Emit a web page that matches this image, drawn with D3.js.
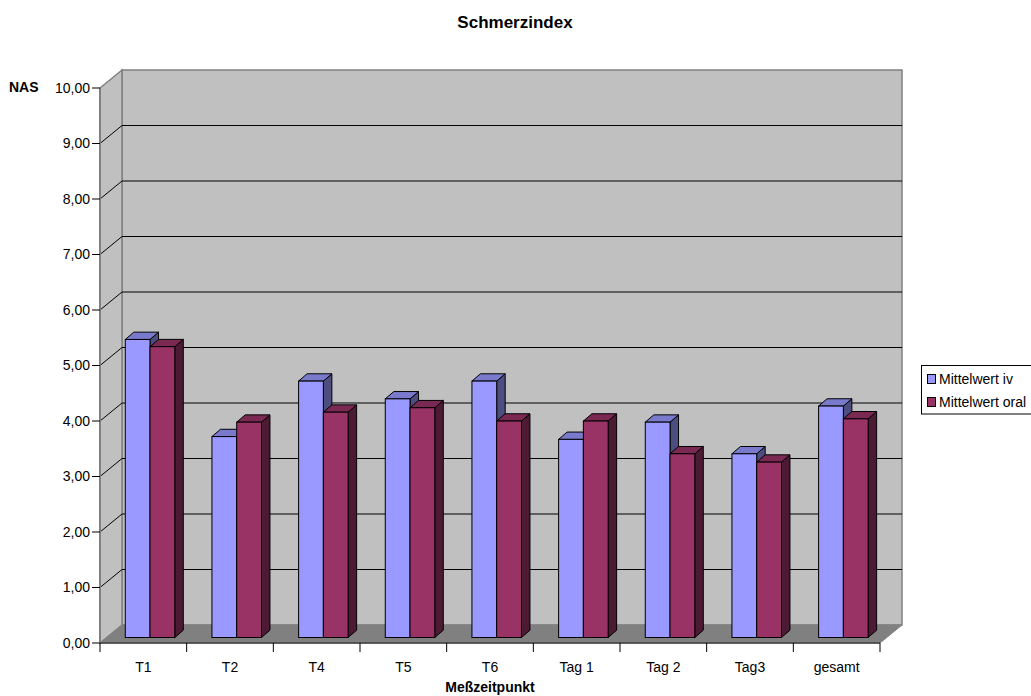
<!DOCTYPE html>
<html><head><meta charset="utf-8">
<script src="https://cdn.jsdelivr.net/npm/d3@7"></script>
<style>body{margin:0;background:#fff} svg text{font-family:"Liberation Sans",Arial,sans-serif}</style>
</head><body><svg id="c" width="1031" height="696"></svg>
<script>
const categories = ["T1","T2","T4","T5","T6","Tag 1","Tag 2","Tag3","gesamt"];
const seriesNames = ["Mittelwert iv","Mittelwert oral"];
const ivValues = [5.37, 3.62, 4.62, 4.30, 4.62, 3.57, 3.88, 3.31, 4.17];
const oralValues = [5.24, 3.88, 4.06, 4.14, 3.90, 3.90, 3.31, 3.16, 3.94];
const yTickValues = [0,1,2,3,4,5,6,7,8,9,10];
const chartTitle = "Schmerzindex";
const yAxisTitle = "NAS";
const xAxisTitle = "Meßzeitpunkt";

const seriesColors = {
  "Mittelwert iv": {front:"#9999ff", top:"#7a7acc", side:"#4d4d80"},
  "Mittelwert oral": {front:"#993366", top:"#7a2952", side:"#4d1a33"}
};

const svg = d3.select("#c");
const x0 = 100, x1 = 880, yBottom = 643, yTop = 88;
const DX = 22, DY = -18;           // depth of the 3D box
const FDX = 6.7, FDY = -5.5;       // front shift of bars
const BDX = 8.5, BDY = -7.3;       // bar depth

const x = d3.scaleBand().domain(categories).range([x0, x1]).paddingInner(0).paddingOuter(0);
const y = d3.scaleLinear().domain([0, 10]).range([yBottom, yTop]);
const inner = d3.scaleBand().domain(seriesNames).range([0, x.bandwidth()]).paddingInner(0).paddingOuter(0.75);
const fmt = d3.formatLocale({decimal: ",", thousands: ".", grouping: [3], currency: ["", "€"]}).format(".2f");

const line = d3.line();

// back wall
svg.append("rect")
  .attr("x", x0 + DX).attr("y", y(10) + DY)
  .attr("width", x1 - x0).attr("height", y(0) - y(10))
  .attr("fill", "#c0c0c0").attr("stroke", "#808080").attr("stroke-width", 1.5);
// left wall
svg.append("path")
  .attr("d", line([[x0, y(0)], [x0, y(10)], [x0 + DX, y(10) + DY], [x0 + DX, y(0) + DY]]) + "Z")
  .attr("fill", "#c0c0c0").attr("stroke", "#808080").attr("stroke-width", 1.5);

// gridlines
const grid = yTickValues.filter(v => v > 0 && v < 10);
svg.append("g").selectAll("line.gb").data(grid).join("line")
  .attr("x1", x0 + DX).attr("x2", x1 + DX)
  .attr("y1", d => y(d) + DY).attr("y2", d => y(d) + DY)
  .attr("stroke", "#000").attr("stroke-width", 1);
svg.append("g").selectAll("line.gl").data(grid).join("line")
  .attr("x1", x0).attr("x2", x0 + DX)
  .attr("y1", d => y(d)).attr("y2", d => y(d) + DY)
  .attr("stroke", "#000").attr("stroke-width", 1);

// floor
svg.append("path")
  .attr("d", line([[x0, y(0)], [x1, y(0)], [x1 + DX, y(0) + DY], [x0 + DX, y(0) + DY]]) + "Z")
  .attr("fill", "#808080").attr("stroke", "#808080").attr("stroke-width", 1);

// axes lines
svg.append("line").attr("x1", x0).attr("x2", x0).attr("y1", y(0)).attr("y2", y(10))
  .attr("stroke", "#808080").attr("stroke-width", 2);
svg.append("line").attr("x1", x0).attr("x2", x1).attr("y1", y(0)).attr("y2", y(0))
  .attr("stroke", "#404040").attr("stroke-width", 1.5);

// y ticks + labels
const yt = svg.append("g").selectAll("g").data(yTickValues).join("g");
yt.append("line").attr("x1", x0 - 8).attr("x2", x0).attr("y1", d => y(d)).attr("y2", d => y(d))
  .attr("stroke", "#000").attr("stroke-width", 1);
yt.append("text").attr("x", x0 - 10).attr("y", d => y(d)).attr("dy", "0.35em")
  .attr("text-anchor", "end").attr("font-size", 14).attr("fill", "#000").text(d => fmt(d));

// x ticks + labels
const bounds = categories.map(c => x(c)).concat([x1]);
svg.append("g").selectAll("line").data(bounds).join("line")
  .attr("x1", d => d).attr("x2", d => d).attr("y1", y(0)).attr("y2", y(0) + 9)
  .attr("stroke", "#000").attr("stroke-width", 1);
svg.append("g").selectAll("text").data(categories).join("text")
  .attr("x", d => x(d) + x.bandwidth() / 2).attr("y", 672)
  .attr("text-anchor", "middle").attr("font-size", 14).attr("fill", "#000").text(d => d);

// bars
const barData = [];
categories.forEach((c, i) => {
  barData.push({cat: c, s: seriesNames[0], v: ivValues[i]});
  barData.push({cat: c, s: seriesNames[1], v: oralValues[i]});
});
const bw = inner.bandwidth();
const bars = svg.append("g").selectAll("g").data(barData).join("g");
bars.each(function(d) {
  const g = d3.select(this);
  const bx = x(d.cat) + inner(d.s) + FDX;
  const yb = y(0) + FDY;
  const yt2 = y(d.v) + FDY;
  const col = seriesColors[d.s];
  g.append("path")
    .attr("d", line([[bx + bw, yt2], [bx + bw + BDX, yt2 + BDY], [bx + bw + BDX, yb + BDY], [bx + bw, yb]]) + "Z")
    .attr("fill", col.side).attr("stroke", "#000").attr("stroke-width", 1).attr("stroke-linejoin", "round");
  g.append("path")
    .attr("d", line([[bx, yt2], [bx + BDX, yt2 + BDY], [bx + bw + BDX, yt2 + BDY], [bx + bw, yt2]]) + "Z")
    .attr("fill", col.top).attr("stroke", "#000").attr("stroke-width", 1).attr("stroke-linejoin", "round");
  g.append("rect").attr("x", bx).attr("y", yt2).attr("width", bw).attr("height", yb - yt2)
    .attr("fill", col.front).attr("stroke", "#000").attr("stroke-width", 1);
});

// titles
svg.append("text").attr("x", 515).attr("y", 28).attr("text-anchor", "middle")
  .attr("font-size", 17).attr("font-weight", "bold").text(chartTitle);
svg.append("text").attr("x", 9).attr("y", 92).attr("font-size", 14)
  .attr("font-weight", "bold").text(yAxisTitle);
svg.append("text").attr("x", 490).attr("y", 692).attr("text-anchor", "middle")
  .attr("font-size", 14).attr("font-weight", "bold").text(xAxisTitle);

// legend
const lg = svg.append("g");
lg.append("rect").attr("x", 921.5).attr("y", 365.5).attr("width", 120).attr("height", 48.5)
  .attr("fill", "#fff").attr("stroke", "#000").attr("stroke-width", 1);
const li = lg.selectAll("g").data(seriesNames).join("g")
  .attr("transform", (d, i) => `translate(927,${379 + i * 23})`);
li.append("rect").attr("x", 0.5).attr("y", -4.5).attr("width", 8).attr("height", 9)
  .attr("fill", d => seriesColors[d].front).attr("stroke", "#000").attr("stroke-width", 1);
li.append("text").attr("x", 12).attr("y", 0).attr("dy", "0.35em").attr("font-size", 14).text(d => d);
</script>
</body></html>
